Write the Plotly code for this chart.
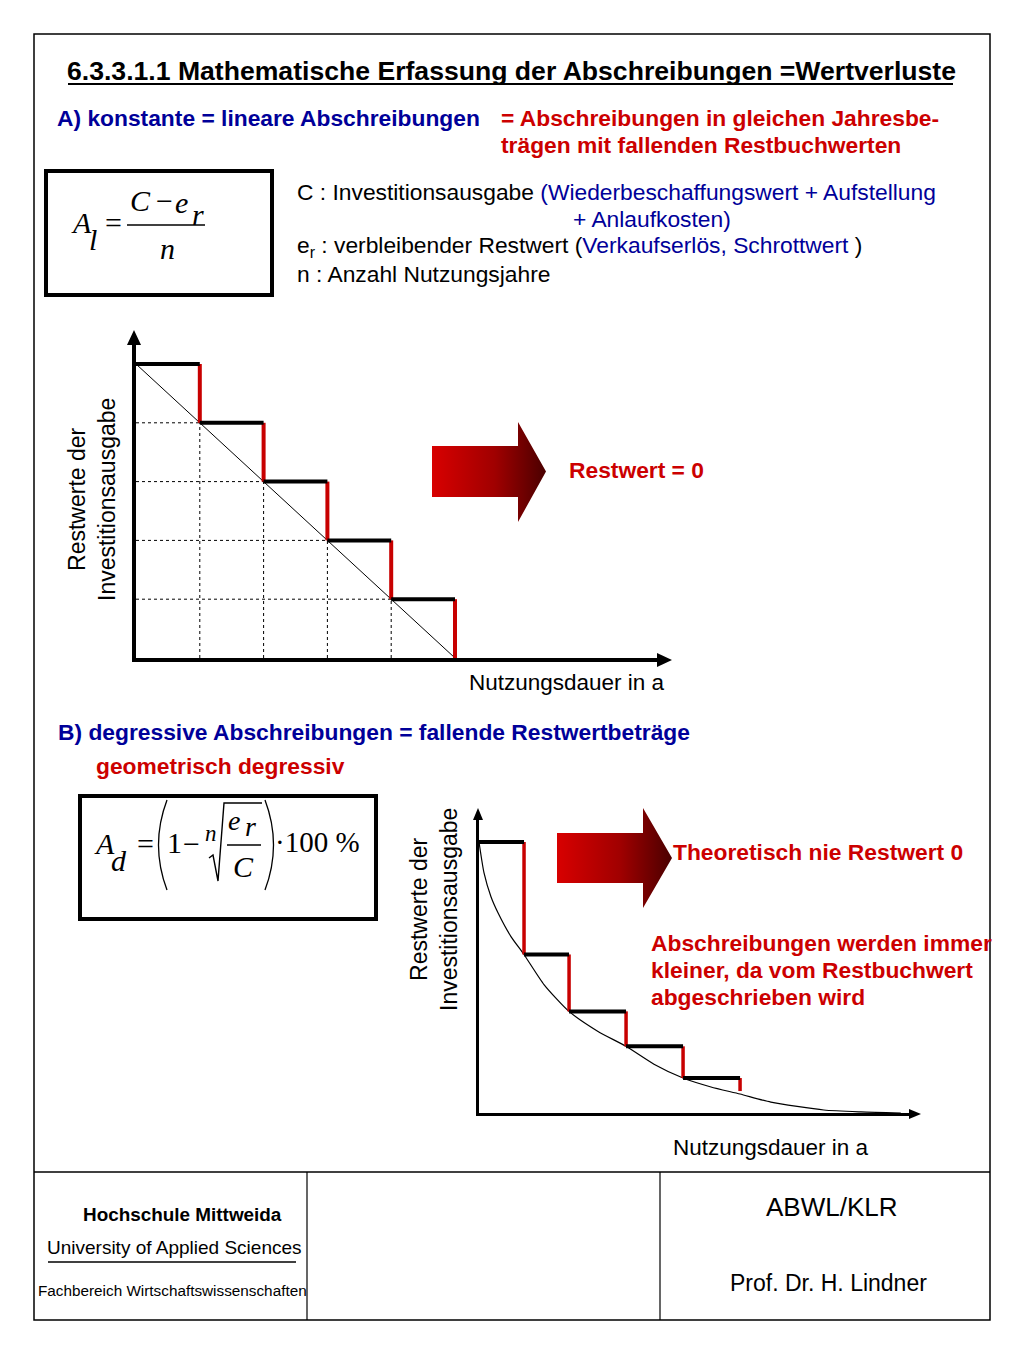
import plotly.graph_objects as go

# ------------------------------------------------------------------ data
# A) linear depreciation: years and residual values (% of investment)
lin_jahre = [0, 1, 2, 3, 4, 5]
lin_restwert = [100, 80, 60, 40, 20, 0]

# B) geometric-degressive depreciation (read from the picture)
deg_jahre = [0, 0.79, 1.58, 2.58, 3.58, 4.58]
deg_restwert = [100, 58.5, 37.5, 24.6, 12.9, 8.1]

# theoretical residual value curve
kurve_jahre = [0, 0.088, 0.21, 0.333, 0.561, 0.789, 1.14, 1.579, 2.088,
               2.579, 3.07, 3.579, 4.07, 4.579, 5.12, 6.05, 6.7, 7.4]
kurve_restwert = [100, 88.6, 79.8, 73.9, 65.1, 58.5, 47.4, 37.5, 30.1,
                  24.6, 18.0, 12.9, 9.6, 7.0, 4.0, 1.1, 0.4, 0]

y_titel = "Restwerte der<br>Investitionsausgabe"
x_titel = "Nutzungsdauer in a"

# ------------------------------------------------------------------ layout helpers
W, H, OFF = 1008, 1349, 8          # figure size, body margin of the page
SANS = "Liberation Sans, Arial, Helvetica, sans-serif"
SERIF = "Liberation Serif, Times New Roman, serif"
RED = "#cc0000"
BLUE = "#000099"
LRED = "#c80000"
FS = 22.8                           # main text size


def dx(px):
    return (px - OFF) / W


def dy(py):
    return 1 - (py - OFF) / H


fig = go.Figure()

# ------------------------------------------------------------------ chart geometry (page px)
A_x0, A_xend, A_pxu = 136, 664, 63.8      # origin, line end, px per year
A_y0, A_yend, A_pyu = 658, 338, 2.94      # origin, line end, px per %
B_x0, B_xend, B_pxu = 479, 912, 57.0
B_y0, B_yend, B_pyu = 1113, 816, 2.71


def steps(xs, vs):
    hx, hy, rx, ry = [], [], [], []
    for i in range(len(xs) - 1):
        hx += [xs[i], xs[i + 1], None]
        hy += [vs[i], vs[i], None]
        rx += [xs[i + 1], xs[i + 1], None]
        ry += [vs[i], vs[i + 1], None]
    return hx, hy, rx, ry


# ---- chart A traces
gx, gy = [], []
for i in range(1, len(lin_jahre) - 1):
    gx += [lin_jahre[0], lin_jahre[i], None]
    gy += [lin_restwert[i], lin_restwert[i], None]
    gx += [lin_jahre[i], lin_jahre[i], None]
    gy += [0, lin_restwert[i], None]
fig.add_trace(go.Scatter(x=gx, y=gy, mode="lines", xaxis="x", yaxis="y",
                         line=dict(color="black", width=1, dash="dot"),
                         hoverinfo="skip"))
fig.add_trace(go.Scatter(x=[lin_jahre[0], lin_jahre[-1]],
                         y=[lin_restwert[0], lin_restwert[-1]],
                         mode="lines", xaxis="x", yaxis="y",
                         line=dict(color="black", width=1), hoverinfo="skip"))
hx, hy, rx, ry = steps(lin_jahre, lin_restwert)
fig.add_trace(go.Scatter(x=rx, y=ry, mode="lines", xaxis="x", yaxis="y",
                         line=dict(color=LRED, width=4), hoverinfo="skip"))
fig.add_trace(go.Scatter(x=hx, y=hy, mode="lines", xaxis="x", yaxis="y",
                         line=dict(color="black", width=4), hoverinfo="skip"))

# ---- chart B traces
fig.add_trace(go.Scatter(x=kurve_jahre, y=kurve_restwert, mode="lines",
                         xaxis="x2", yaxis="y2", line=dict(color="black", width=1.2,
                                                            shape="spline", smoothing=0.6),
                         hoverinfo="skip"))
hx, hy, rx, ry = steps(deg_jahre, deg_restwert)
fig.add_trace(go.Scatter(x=rx, y=ry, mode="lines", xaxis="x2", yaxis="y2",
                         line=dict(color=LRED, width=3.5), hoverinfo="skip"))
fig.add_trace(go.Scatter(x=hx, y=hy, mode="lines", xaxis="x2", yaxis="y2",
                         line=dict(color="black", width=4), hoverinfo="skip"))


# ---- gradient block arrows (page px)
def block_arrow(x0, xb, xt, body_top, body_bot, head_top, head_bot):
    yc = (body_top + body_bot) / 2
    xs = [x0, xb, xb, xt, xb, xb, x0, x0]
    ys = [body_top, body_top, head_top, yc, head_bot, body_bot, body_bot, body_top]
    return go.Scatter(x=xs, y=ys, mode="lines", fill="toself", xaxis="x3", yaxis="y3",
                      line=dict(width=0, color="rgba(0,0,0,0)"),
                      fillgradient=dict(type="horizontal",
                                        colorscale=[[0, "#d80000"], [0.55, "#a00000"],
                                                    [1, "#4a0000"]]),
                      hoverinfo="skip")


fig.add_trace(block_arrow(432, 518, 546, 446, 497, 422, 522))
fig.add_trace(block_arrow(557, 643, 672, 833, 883, 808, 908))

# ------------------------------------------------------------------ shapes (page px)
shapes = []


def line(x0, y0, x1, y1, w=1.5, color="black"):
    shapes.append(dict(type="line", x0=x0, y0=y0, x1=x1, y1=y1, xref="x3", yref="y3",
                       line=dict(color=color, width=w)))


def rect(x0, y0, x1, y1, w=1.5):
    shapes.append(dict(type="rect", x0=x0, y0=y0, x1=x1, y1=y1, xref="x3", yref="y3",
                       line=dict(color="black", width=w)))


def path(p, w=1.5, fill=None):
    d = dict(type="path", path=p, xref="x3", yref="y3",
             line=dict(color="black", width=w))
    if fill:
        d["fillcolor"] = fill
        d["line"]["width"] = 0
    shapes.append(d)


rect(34, 34, 990, 1320, 1.5)             # page frame
line(34, 1172, 990, 1172, 1.5)           # footer
line(307, 1172, 307, 1320, 1.2)
line(660, 1172, 660, 1320, 1.2)
line(68, 84, 953, 84, 2.2)               # title underline
line(48, 1262, 296, 1262, 1.5)           # underline in footer

# formula boxes
rect(46, 171, 272, 295, 4)
rect(80, 796, 376, 919, 4)
# formula 1 fraction bar
line(127, 225, 205, 225, 1.3)
# formula 2 decorations
line(227, 845, 261, 845, 1.3)
path("M 209 858 L 213 855 L 218 881 L 224 803 L 262 803", 1.4)
path("M 167 800 Q 150 845 167 890", 1.3)
path("M 265 800 Q 282 845 265 890", 1.3)

# axis arrow heads
path("M 657 653 L 672 660 L 657 667 Z", fill="black")
path("M 127 345 L 134 330 L 141 345 Z", fill="black")
path("M 909 1109 L 921 1114 L 909 1119 Z", fill="black")
path("M 473 820 L 478 808 L 483 820 Z", fill="black")

# ------------------------------------------------------------------ annotations
ann = []


def txt(x, y, text, size, color="black", bold=False, xanchor="left",
        family=SANS, angle=0, yanchor="middle"):
    if bold:
        text = "<b>" + text + "</b>"
    ann.append(dict(x=x, y=y, xref="x3", yref="y3", text=text, showarrow=False,
                    font=dict(size=size, color=color, family=family),
                    xanchor=xanchor, yanchor=yanchor, textangle=angle,
                    borderpad=0, borderwidth=0))


def math(x, y, text, size=30, italic=True):
    if italic:
        text = "<i>" + text + "</i>"
    txt(x, y, text, size, family=SERIF, xanchor="center")


txt(511, 71, "6.3.3.1.1 Mathematische Erfassung der Abschreibungen =Wertverluste",
    26.6, bold=True, xanchor="center")
txt(57, 118, "A) konstante = lineare Abschreibungen", FS, BLUE, bold=True)
txt(501, 118, "= Abschreibungen in gleichen Jahresbe-", FS, RED, bold=True)
txt(501, 145, "trägen mit fallenden Restbuchwerten", FS, RED, bold=True)

txt(297, 192, "C : Investitionsausgabe <span style='color:%s'>(Wiederbeschaffungswert"
    " + Aufstellung</span>" % BLUE, FS)
txt(573, 219, "<span style='color:%s'>+ Anlaufkosten)</span>" % BLUE, FS)
txt(297, 246, "e<sub>r</sub> : verbleibender Restwert (<span style='color:%s'>"
    "Verkaufserlös, Schrottwert </span>)" % BLUE, FS)
txt(297, 274, "n : Anzahl Nutzungsjahre", FS)

# formula 1
math(81, 222, "A")
math(93, 239, "l")
math(113, 222, "=", italic=False)
math(140, 200, "C")
math(164, 200, "−", italic=False)
math(181, 202, "e")
math(198, 214, "r")
math(167, 248, "n")

# formula 2
math(104, 843, "A")
math(119, 860, "d")
math(145, 843, "=", italic=False)
math(174, 842, "1", italic=False)
math(191, 843, "−", italic=False)
txt(211, 833, "<i>n</i>", 23, family=SERIF, xanchor="center")
math(234, 820, "e", 28)
math(250, 826, "r", 28)
math(243, 866, "C", 30)
txt(275, 842, "·100 %", 29, family=SERIF)

# chart texts
txt(92, 500, y_titel, 23, xanchor="center", angle=-90)
txt(567, 682, x_titel, 22.5, xanchor="center")
txt(569, 470, "Restwert = 0", FS, RED, bold=True)

txt(58, 732, "B) degressive Abschreibungen = fallende Restwertbeträge", FS, BLUE, bold=True)
txt(96, 766, "geometrisch degressiv", FS, RED, bold=True)

txt(434, 910, y_titel, 23, xanchor="center", angle=-90)
txt(771, 1147, x_titel, 22.5, xanchor="center")
txt(673, 852, "Theoretisch nie Restwert 0", FS, RED, bold=True)
txt(651, 943, "Abschreibungen werden immer", FS, RED, bold=True)
txt(651, 970, "kleiner, da vom Restbuchwert", FS, RED, bold=True)
txt(651, 997, "abgeschrieben wird", FS, RED, bold=True)

# footer
txt(182, 1214, "Hochschule Mittweida", 18.9, bold=True, xanchor="center")
txt(174, 1247, "University of Applied Sciences", 19, xanchor="center")
txt(172, 1290, "Fachbereich Wirtschaftswissenschaften", 15.3, xanchor="center")
txt(832, 1207, "ABWL/KLR", 26, xanchor="center")
txt(828, 1283, "Prof. Dr. H. Lindner", 23, xanchor="center")

# ------------------------------------------------------------------ axes
hidden = dict(showgrid=False, zeroline=False, showticklabels=False, ticks="")
fig.update_layout(
    width=W, height=H,
    margin=dict(l=0, r=0, t=0, b=0),
    paper_bgcolor="white", plot_bgcolor="rgba(0,0,0,0)",
    showlegend=False, hovermode=False,
    xaxis=dict(domain=[dx(A_x0), dx(A_xend)], range=[0, (A_xend - A_x0) / A_pxu],
               anchor="y", showline=True, linewidth=4, linecolor="black", **hidden),
    yaxis=dict(domain=[dy(A_y0), dy(A_yend)], range=[0, (A_y0 - A_yend) / A_pyu],
               anchor="x", showline=True, linewidth=4, linecolor="black", **hidden),
    xaxis2=dict(domain=[dx(B_x0), dx(B_xend)], range=[0, (B_xend - B_x0) / B_pxu],
                anchor="y2", showline=True, linewidth=2.5, linecolor="black", **hidden),
    yaxis2=dict(domain=[dy(B_y0), dy(B_yend)], range=[0, (B_y0 - B_yend) / B_pyu],
                anchor="x2", showline=True, linewidth=2.5, linecolor="black", **hidden),
    xaxis3=dict(domain=[0, 1], range=[OFF, OFF + W], anchor="y3", visible=False),
    yaxis3=dict(domain=[0, 1], range=[OFF + H, OFF], anchor="x3", visible=False),
    shapes=shapes,
    annotations=ann,
)

fig.write_html("out.html")
